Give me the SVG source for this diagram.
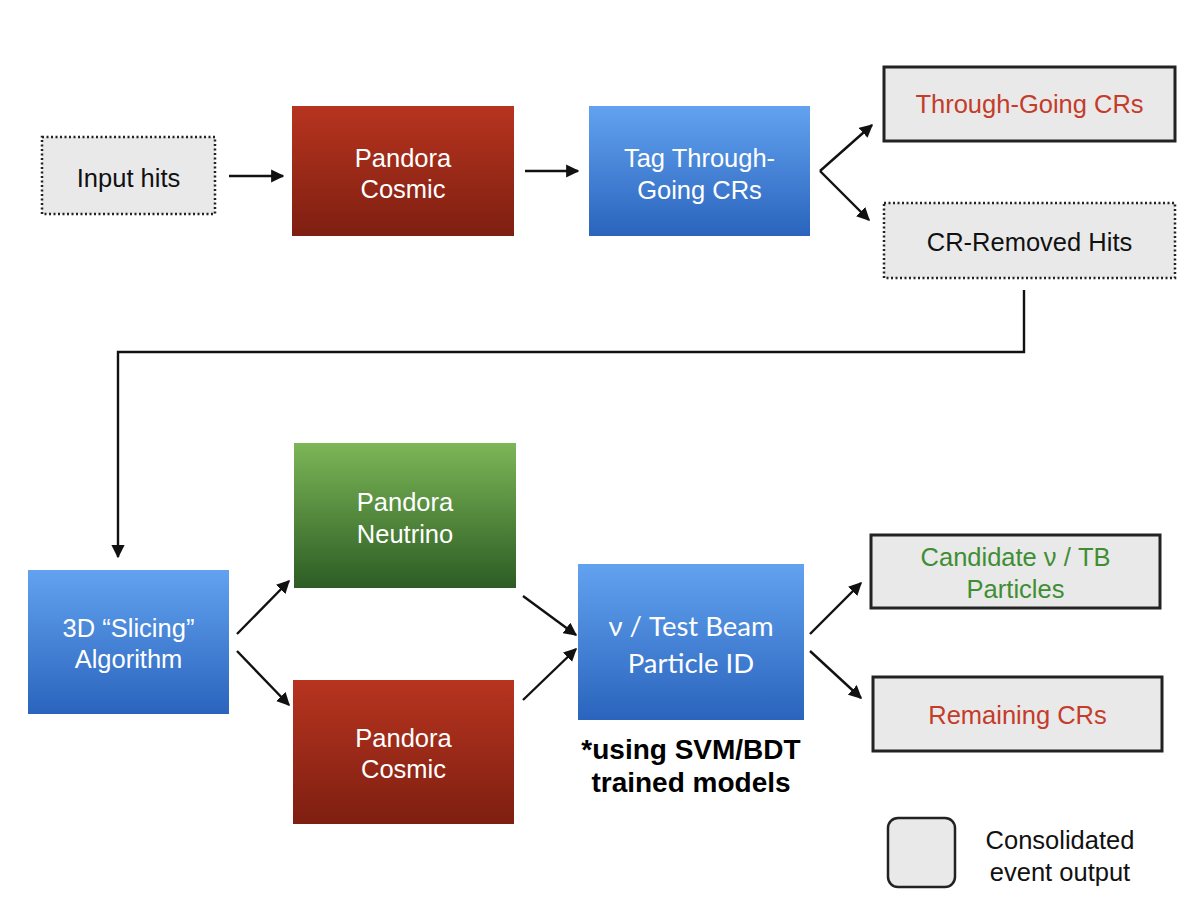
<svg xmlns="http://www.w3.org/2000/svg" width="1196" height="910" viewBox="0 0 1196 910">
<style>
.t{font-family:"Liberation Sans",Arial,sans-serif;font-size:25.5px;text-anchor:middle}
.w{fill:#fff}
.k{fill:#111}
.r{fill:#c43c2a}
.g{fill:#3f8e33}
.gray{fill:#e9e9e9}
.dot{stroke:#222;stroke-width:2.5;stroke-dasharray:2 2.5}
.sol{stroke:#222;stroke-width:3}
.c{fill:none;stroke:#111;stroke-width:2.4}
.b{font-family:"Liberation Sans",Arial,sans-serif;font-size:28px;font-weight:bold;text-anchor:middle;fill:#000}
.gs{font-family:Lato,"Open Sans",sans-serif;font-size:27.5px;text-anchor:middle;fill:#fff}
</style>
<defs>
<linearGradient id="red" x1="0" y1="0" x2="0" y2="1"><stop offset="0" stop-color="#b7341f"/><stop offset="1" stop-color="#7e1f11"/></linearGradient>
<linearGradient id="blue" x1="0" y1="0" x2="0" y2="1"><stop offset="0" stop-color="#62a2ef"/><stop offset="1" stop-color="#2a64bd"/></linearGradient>
<linearGradient id="green" x1="0" y1="0" x2="0" y2="1"><stop offset="0" stop-color="#7cb657"/><stop offset="1" stop-color="#2c5c24"/></linearGradient>
<marker id="ah" viewBox="0 0 10 10" refX="9" refY="5" markerWidth="5.5" markerHeight="5.5" orient="auto" markerUnits="strokeWidth"><path d="M0,0 L10,5 L0,10 z" fill="#111"/></marker>
</defs>
<rect width="1196" height="910" fill="#fff"/>

<g id="input-hits"><rect x="42" y="137" width="173" height="77" class="gray dot"/><text x="128.5" y="187" class="t k">Input hits</text></g>
<g id="pandora-cosmic-1"><rect x="292" y="106" width="222" height="130" fill="url(#red)"/><text x="403" y="167" class="t w">Pandora</text><text x="403" y="198" class="t w">Cosmic</text></g>
<g id="tag-through-going"><rect x="589" y="106" width="221" height="130" fill="url(#blue)"/><text x="699.5" y="167" class="t w">Tag Through-</text><text x="699.5" y="199" class="t w">Going CRs</text></g>
<g id="through-going-crs"><rect x="884" y="67" width="291" height="74" class="gray sol"/><text x="1029.5" y="113" class="t r">Through-Going CRs</text></g>
<g id="cr-removed-hits"><rect x="884" y="203" width="291" height="75" class="gray dot"/><text x="1029.5" y="251" class="t k">CR-Removed Hits</text></g>

<g id="slicing"><rect x="28" y="570" width="201" height="144" fill="url(#blue)"/><text x="128.5" y="637" class="t w">3D “Slicing”</text><text x="128.5" y="668" class="t w">Algorithm</text></g>
<g id="pandora-neutrino"><rect x="294" y="443" width="222" height="145" fill="url(#green)"/><text x="405" y="511" class="t w">Pandora</text><text x="405" y="543" class="t w">Neutrino</text></g>
<g id="pandora-cosmic-2"><rect x="293" y="680" width="221" height="144" fill="url(#red)"/><text x="403.5" y="747" class="t w">Pandora</text><text x="403.5" y="778" class="t w">Cosmic</text></g>
<g id="particle-id"><rect x="578" y="564" width="226" height="156" fill="url(#blue)"/><text x="691" y="636" class="gs">ν / Test Beam</text><text x="691" y="673" class="gs">Particle ID</text></g>
<g id="note"><text x="691" y="759" class="b">*using SVM/BDT</text><text x="691" y="792" class="b">trained models</text></g>
<g id="candidate"><rect x="871" y="535" width="289" height="73" class="gray sol"/><text x="1015.5" y="566" class="t g">Candidate ν / TB</text><text x="1015.5" y="598" class="t g">Particles</text></g>
<g id="remaining-crs"><rect x="873" y="677" width="289" height="74" class="gray sol"/><text x="1017.5" y="724" class="t r">Remaining CRs</text></g>
<g id="legend"><rect x="888" y="818" width="67" height="69" rx="10" class="gray" stroke="#222" stroke-width="2.5"/><text x="1060" y="849" class="t k">Consolidated</text><text x="1060" y="881" class="t k">event output</text></g>

<g id="connectors">
<line x1="229" y1="176" x2="283" y2="176" class="c" marker-end="url(#ah)"/>
<line x1="525" y1="171" x2="578" y2="171" class="c" marker-end="url(#ah)"/>
<line x1="820" y1="171" x2="872" y2="125" class="c" marker-end="url(#ah)"/>
<line x1="820" y1="171" x2="869" y2="220" class="c" marker-end="url(#ah)"/>
<polyline points="1024,290 1024,352 118,352 118,557" class="c" marker-end="url(#ah)"/>
<line x1="237" y1="634" x2="289" y2="581" class="c" marker-end="url(#ah)"/>
<line x1="237" y1="651" x2="289" y2="705" class="c" marker-end="url(#ah)"/>
<line x1="523" y1="596" x2="576" y2="635" class="c" marker-end="url(#ah)"/>
<line x1="523" y1="700" x2="576" y2="649" class="c" marker-end="url(#ah)"/>
<line x1="810" y1="634" x2="861" y2="583" class="c" marker-end="url(#ah)"/>
<line x1="810" y1="651" x2="861" y2="698" class="c" marker-end="url(#ah)"/>
</g>
</svg>
